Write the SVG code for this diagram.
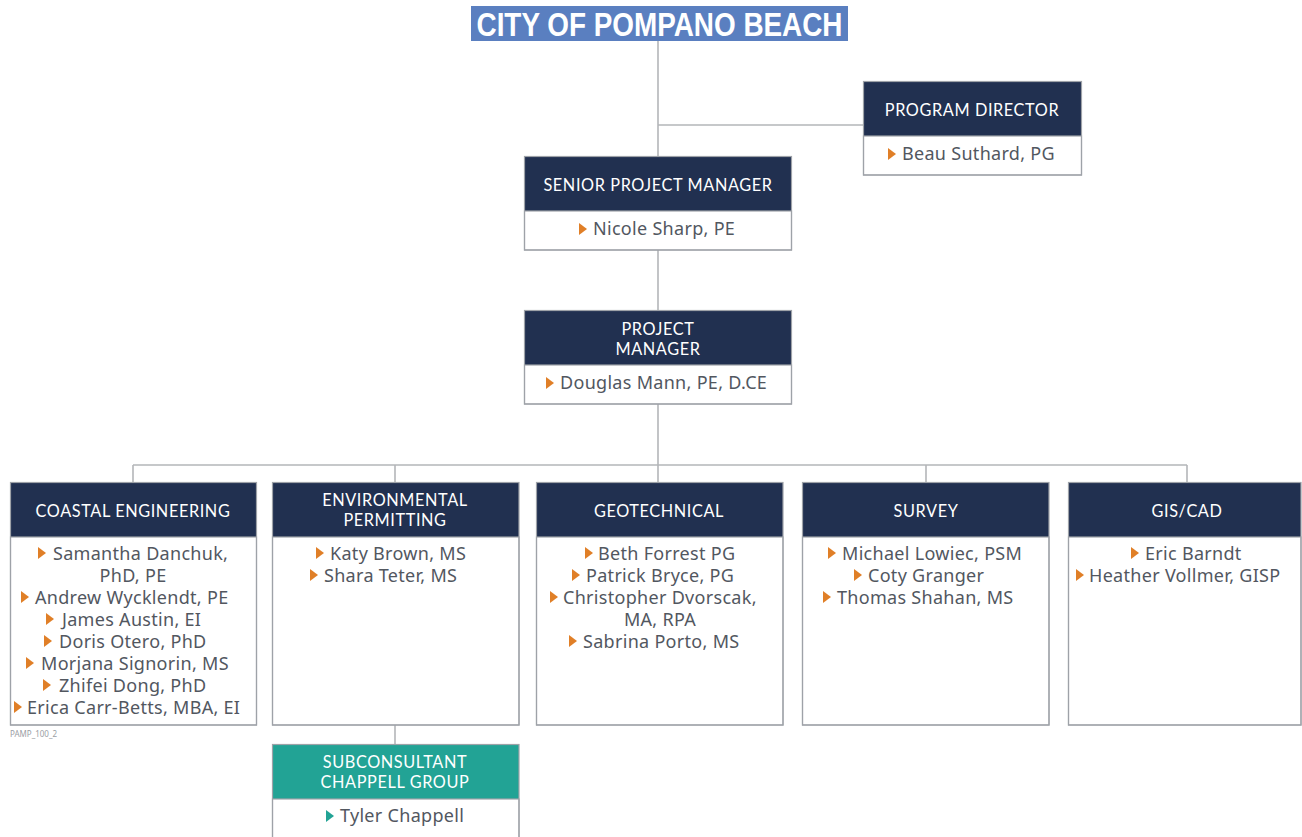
<svg xmlns="http://www.w3.org/2000/svg" width="1302" height="837" viewBox="0 0 1302 837">
<defs>
<style>
.hdr{fill:#213050}
.teal{fill:#22a395}
.body{fill:#ffffff;stroke:#9ea2a8;stroke-width:1.2}
.frame{fill:none;stroke:#9ea2a8;stroke-width:1.2}
.conn{fill:none;stroke:#b4b6b9;stroke-width:1.6}
.ht{font-family:Lato,"Noto Sans",sans-serif;font-size:16.3px;fill:#ffffff;text-anchor:middle;letter-spacing:0.6px}
.bt{font-family:"Noto Sans","Open Sans",sans-serif;font-size:18px;fill:#52575f;letter-spacing:0.3px}
.btc{font-family:"Noto Sans","Open Sans",sans-serif;font-size:18px;fill:#52575f;letter-spacing:0.3px;text-anchor:middle}
.tri{fill:#e07f27}
.trit{fill:#22a395}
</style>
</defs>
<rect width="1302" height="837" fill="#ffffff"/>

<g id="connectors">
<path class="conn" d="M658 41 V156 M658 125 H863 M658 250 V310 M658 404 V465 M133 465 H1187 M133 465 V482 M395 465 V482 M658 465 V482 M926 465 V482 M1187 465 V482 M395 725 V744"/>
</g>

<g id="city">
<rect x="471" y="6" width="377" height="35" fill="#5a7fc0"/>
<text x="659.5" y="36" font-family="Liberation Sans, Arial, sans-serif" font-weight="bold" font-size="33" fill="#ffffff" text-anchor="middle" textLength="366" lengthAdjust="spacingAndGlyphs">CITY OF POMPANO BEACH</text>
</g>

<g id="program-director">
<rect class="hdr" x="863" y="81" width="218" height="55"/>
<rect class="body" x="863.5" y="136" width="218" height="39"/>
<rect class="frame" x="863.5" y="81.5" width="218" height="93.5"/>
<text class="ht" x="972" y="116">PROGRAM DIRECTOR</text>
<polygon class="tri" points="888,148 896,154 888,160"/>
<text class="bt" x="902" y="160">Beau Suthard, PG</text>
</g>

<g id="senior-project-manager">
<rect class="hdr" x="524" y="156" width="267" height="55"/>
<rect class="body" x="524.5" y="211" width="267" height="39"/>
<rect class="frame" x="524.5" y="156.5" width="267" height="93.5"/>
<text class="ht" x="658" y="191">SENIOR PROJECT MANAGER</text>
<polygon class="tri" points="579,223 587,229 579,235"/>
<text class="bt" x="593" y="235">Nicole Sharp, PE</text>
</g>

<g id="project-manager">
<rect class="hdr" x="524" y="310" width="267" height="55"/>
<rect class="body" x="524.5" y="365" width="267" height="39"/>
<rect class="frame" x="524.5" y="310.5" width="267" height="93.5"/>
<text class="ht" x="658" y="335"><tspan x="658">PROJECT</tspan><tspan x="658" dy="20">MANAGER</tspan></text>
<polygon class="tri" points="546,377 554,383 546,389"/>
<text class="bt" x="560" y="389">Douglas Mann, PE, D.CE</text>
</g>

<g id="coastal-engineering">
<rect class="hdr" x="10" y="482" width="246" height="55"/>
<rect class="body" x="10.5" y="537" width="246" height="188"/>
<rect class="frame" x="10.5" y="482.5" width="246" height="242.5"/>
<text class="ht" x="133" y="517">COASTAL ENGINEERING</text>
<polygon class="tri" points="38,547 46,553 38,559"/>
<text class="bt" x="53" y="560">Samantha Danchuk,</text>
<text class="btc" x="133" y="582">PhD, PE</text>
<polygon class="tri" points="21,591 29,597 21,603"/>
<text class="bt" x="35" y="604">Andrew Wycklendt, PE</text>
<polygon class="tri" points="46,613 54,619 46,625"/>
<text class="bt" x="62" y="626">James Austin, EI</text>
<polygon class="tri" points="44,635 52,641 44,647"/>
<text class="bt" x="59" y="648">Doris Otero, PhD</text>
<polygon class="tri" points="26,657 34,663 26,669"/>
<text class="bt" x="41" y="670">Morjana Signorin, MS</text>
<polygon class="tri" points="43,679 51,685 43,691"/>
<text class="bt" x="59" y="692">Zhifei Dong, PhD</text>
<polygon class="tri" points="14,701 22,707 14,713"/>
<text class="bt" x="27" y="714">Erica Carr-Betts, MBA, EI</text>
</g>

<text x="10" y="737" font-family="Noto Sans, sans-serif" font-size="8" fill="#9a9ea4">PAMP_100_2</text>

<g id="environmental-permitting">
<rect class="hdr" x="272" y="482" width="247" height="55"/>
<rect class="body" x="272.5" y="537" width="246.5" height="188"/>
<rect class="frame" x="272.5" y="482.5" width="246.5" height="242.5"/>
<text class="ht" x="395" y="506"><tspan x="395">ENVIRONMENTAL</tspan><tspan x="395" dy="20">PERMITTING</tspan></text>
<polygon class="tri" points="316,547 324,553 316,559"/>
<text class="bt" x="330" y="560">Katy Brown, MS</text>
<polygon class="tri" points="310,569 318,575 310,581"/>
<text class="bt" x="324" y="582">Shara Teter, MS</text>
</g>

<g id="subconsultant">
<rect class="teal" x="272" y="744" width="247" height="55"/>
<rect class="body" x="272.5" y="799" width="246.5" height="60"/>
<rect class="frame" x="272.5" y="744.5" width="246.5" height="114.5"/>
<text class="ht" x="395" y="768"><tspan x="395">SUBCONSULTANT</tspan><tspan x="395" dy="20">CHAPPELL GROUP</tspan></text>
<polygon class="trit" points="326,810 334,816 326,822"/>
<text class="bt" x="340" y="822">Tyler Chappell</text>
</g>

<g id="geotechnical">
<rect class="hdr" x="536" y="482" width="247" height="55"/>
<rect class="body" x="536.5" y="537" width="246.5" height="188"/>
<rect class="frame" x="536.5" y="482.5" width="246.5" height="242.5"/>
<text class="ht" x="659" y="517">GEOTECHNICAL</text>
<polygon class="tri" points="585,547 593,553 585,559"/>
<text class="bt" x="598" y="560">Beth Forrest PG</text>
<polygon class="tri" points="572,569 580,575 572,581"/>
<text class="bt" x="586" y="582">Patrick Bryce, PG</text>
<polygon class="tri" points="550,591 558,597 550,603"/>
<text class="bt" x="563" y="604">Christopher Dvorscak,</text>
<text class="btc" x="660" y="626">MA, RPA</text>
<polygon class="tri" points="569,635 577,641 569,647"/>
<text class="bt" x="583" y="648">Sabrina Porto, MS</text>
</g>

<g id="survey">
<rect class="hdr" x="802" y="482" width="247" height="55"/>
<rect class="body" x="802.5" y="537" width="246.5" height="188"/>
<rect class="frame" x="802.5" y="482.5" width="246.5" height="242.5"/>
<text class="ht" x="926" y="517">SURVEY</text>
<polygon class="tri" points="828,547 836,553 828,559"/>
<text class="bt" x="842" y="560">Michael Lowiec, PSM</text>
<polygon class="tri" points="854,569 862,575 854,581"/>
<text class="bt" x="868" y="582">Coty Granger</text>
<polygon class="tri" points="823,591 831,597 823,603"/>
<text class="bt" x="837" y="604">Thomas Shahan, MS</text>
</g>

<g id="gis-cad">
<rect class="hdr" x="1068" y="482" width="233" height="55"/>
<rect class="body" x="1068.5" y="537" width="232.5" height="188"/>
<rect class="frame" x="1068.5" y="482.5" width="232.5" height="242.5"/>
<text class="ht" x="1187" y="517">GIS/CAD</text>
<polygon class="tri" points="1131,547 1139,553 1131,559"/>
<text class="bt" x="1145" y="560">Eric Barndt</text>
<polygon class="tri" points="1076,569 1084,575 1076,581"/>
<text class="bt" x="1089" y="582">Heather Vollmer, GISP</text>
</g>
</svg>
